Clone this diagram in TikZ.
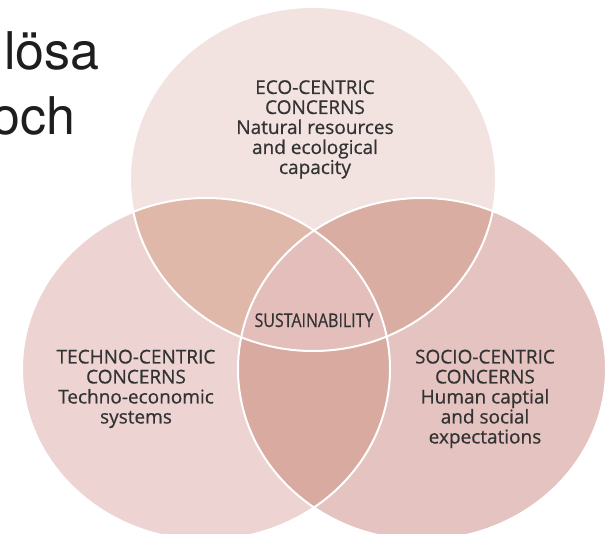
\documentclass[tikz,border=0pt]{standalone}
\usepackage{fontspec}
\setmainfont{Open Sans}
\newfontfamily\lblfont{Open Sans}[FakeBold=0.6]
\newfontfamily\bigfont{TeX Gyre Heros}
\definecolor{cT}{HTML}{F2E2E0}
\definecolor{cL}{HTML}{EDD4D3}
\definecolor{cR}{HTML}{E5C3C1}
\definecolor{cTL}{HTML}{DFB8A9}
\definecolor{cTR}{HTML}{D9ADA1}
\definecolor{cLR}{HTML}{D9AA9F}
\definecolor{cC}{HTML}{E3BEBA}
\definecolor{txt}{HTML}{333333}
\definecolor{bigtxt}{HTML}{1E1E1E}
\newcommand{\ellT}{(313,179) ellipse [x radius=183pt, y radius=172pt]}
\newcommand{\ellL}{(206,369) ellipse [x radius=184pt, y radius=171pt]}
\newcommand{\ellR}{(422,369) ellipse [x radius=184pt, y radius=171pt]}
\begin{document}
\begin{tikzpicture}[x=1pt,y=-1pt,
  lbl/.style={align=center, inner sep=0pt, anchor=north, text=txt,
    font=\lblfont\fontsize{19}{20}\selectfont},
  big/.style={inner sep=0pt, anchor=base west, text=bigtxt,
    font=\bigfont\fontsize{52}{60}\selectfont},
  sep/.style={draw=white, line width=2pt}]
\useasboundingbox (0,0) rectangle (609,534);
\clip (0,0) rectangle (609,534);
\fill[white] (0,0) rectangle (609,534);
% single regions
\fill[cT] \ellT;
\fill[cL] \ellL;
\fill[cR] \ellR;
% pairwise
\begin{scope}\clip \ellT; \fill[cTL] \ellL; \end{scope}
\begin{scope}\clip \ellT; \fill[cTR] \ellR; \end{scope}
\begin{scope}\clip \ellL; \fill[cLR] \ellR; \end{scope}
% centre
\begin{scope}\clip \ellT; \clip \ellL; \fill[cC] \ellR; \end{scope}
% white borders
\draw[sep] \ellT;
\draw[sep] \ellL;
\draw[sep] \ellR;
% texts
\node[big] (losa) at (4,70) {lösa};
\node[big] (och) at (-9,135) {och};
\node[lbl] (eco) at (315,80) {ECO-CENTRIC\\CONCERNS\\Natural resources\\and ecological\\capacity};
\node[lbl] (techno) at (136,349.5) {TECHNO-CENTRIC\\CONCERNS\\Techno-economic\\systems};
\node[lbl] (socio) at (485,349.5) {SOCIO-CENTRIC\\CONCERNS\\Human captial\\and social\\expectations};
\node[inner sep=0pt, anchor=base, text=txt, font=\lblfont\fontsize{19}{20}\selectfont] (sus) at (314,327) {\scalebox{0.84}[1]{SUSTAINABILITY}};
\end{tikzpicture}
\end{document}
